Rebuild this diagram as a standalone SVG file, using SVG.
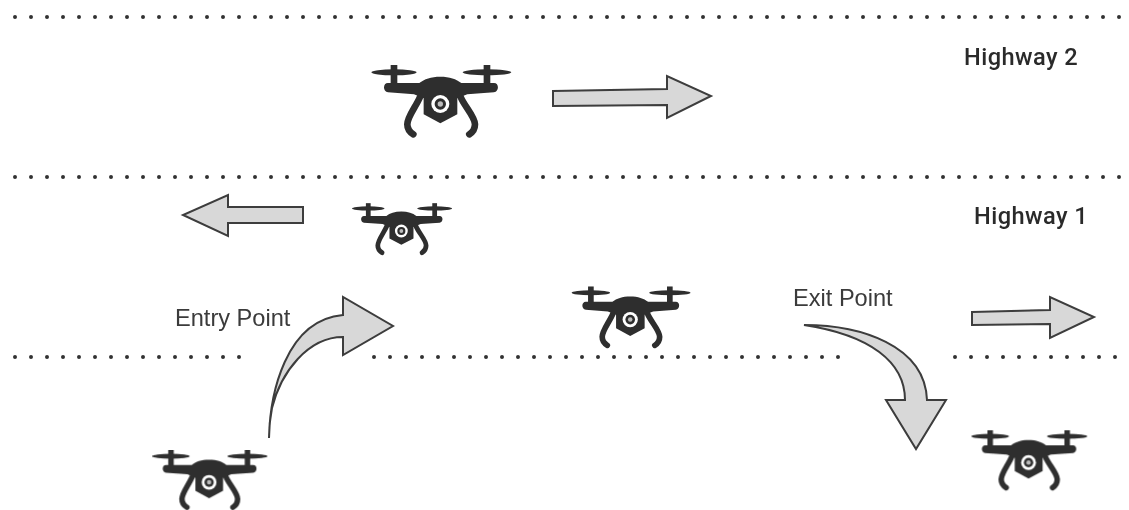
<svg xmlns="http://www.w3.org/2000/svg" width="1129" height="510" viewBox="0 0 1129 510">
<style>
.dots{fill:none;stroke:#333;stroke-width:4;stroke-linecap:round;stroke-dasharray:0 16}
.arrow{fill:#d8d8d8;stroke:#3c3c3c;stroke-width:2;stroke-linejoin:miter}
.label{font-family:"Liberation Sans",Arial,sans-serif;font-size:23.6px;fill:#3a3a3a}
.bold{font-family:Roboto,"Liberation Sans",sans-serif;font-weight:500;font-size:23.6px;letter-spacing:.45px;fill:#2a2a2a}
.d{fill:#2e2e2e}
.leg{fill:none;stroke:#2e2e2e;stroke-width:20;stroke-linecap:round}
</style>
<defs>
<filter id="soft" filterUnits="userSpaceOnUse" x="0" y="0" width="1129" height="510"><feGaussianBlur stdDeviation="0.6"/></filter>
<symbol id="drone" viewBox="0 0 490 270" overflow="visible">
<ellipse class="d" cx="102" cy="52" rx="68" ry="9"/>
<ellipse class="d" cx="381" cy="52" rx="73" ry="9"/>
<rect class="d" x="92" y="30" width="20" height="68"/>
<rect class="d" x="371" y="30" width="20" height="68"/>
<path class="d" d="M84 84H178C193 72 213 65 241 65C269 65 289 72 304 84H402C418 84 418 110 402 112L322 118L292 130V178L241 205L191 178V130L162 118L84 112C68 110 68 84 84 84Z"/>
<path class="leg" d="M180 126C168 155 142 185 142 208C142 224 150 232 160 238"/>
<path class="leg" d="M302 126C314 155 345 185 345 208C345 224 338 232 328 238"/>
<circle cx="241" cy="147" r="27" fill="#fff"/>
<circle class="d" cx="241" cy="147" r="17"/>
<circle cx="241" cy="147" r="8" fill="#bdbdbd"/>
</symbol>
</defs>
<g filter="url(#soft)">
<g id="connectors">
<path class="dots" d="M15 17H1120"/>
<path class="dots" d="M15 177H1120"/>
<path class="dots" d="M15 357H240"/>
<path class="dots" d="M374 357H840"/>
<path class="dots" d="M955 357H1120"/>
</g>
<g id="arrow-highway2"><path class="arrow" d="M553 91L667 89V76L711 96L667 118V105L553 106Z"/></g>
<g id="arrow-left"><path class="arrow" d="M303 207V223H228V236L183 215L228 195V207Z"/></g>
<g id="arrow-right"><path class="arrow" d="M972 312L1050 310V297L1094 317L1050 338V324L972 325Z"/></g>
<g id="arrow-entry"><path class="arrow" d="M269 438C270 395 285 320 343 315V297L393 326L343 355V337C308 337 281 372 272 408C270 418 269 428 269 438Z"/></g>
<g id="arrow-exit"><path class="arrow" d="M804 325C860 325 925 345 927 400H946L916 449L886 400H905C905 362 870 335 804 325Z"/></g>
<g id="drone-1"><use href="#drone" x="360" y="55" width="163.300" height="90"/></g>
<g id="drone-2"><use href="#drone" x="344" y="196" width="116.600" height="64.300"/></g>
<g id="drone-3"><use href="#drone" x="562" y="278" width="138.700" height="76.400"/></g>
<g id="drone-4"><use href="#drone" x="143" y="442" width="134.300" height="74"/></g>
<g id="drone-5"><use href="#drone" x="962" y="422" width="135.200" height="74.500"/></g>
<g id="label-highway2"><text class="bold" x="964" y="65">Highway 2</text></g>
<g id="label-highway1"><text class="bold" x="974" y="224">Highway 1</text></g>
<g id="label-entry"><text class="label" x="175" y="326">Entry Point</text></g>
<g id="label-exit"><text class="label" x="793" y="306">Exit Point</text></g>
</g>
</svg>
